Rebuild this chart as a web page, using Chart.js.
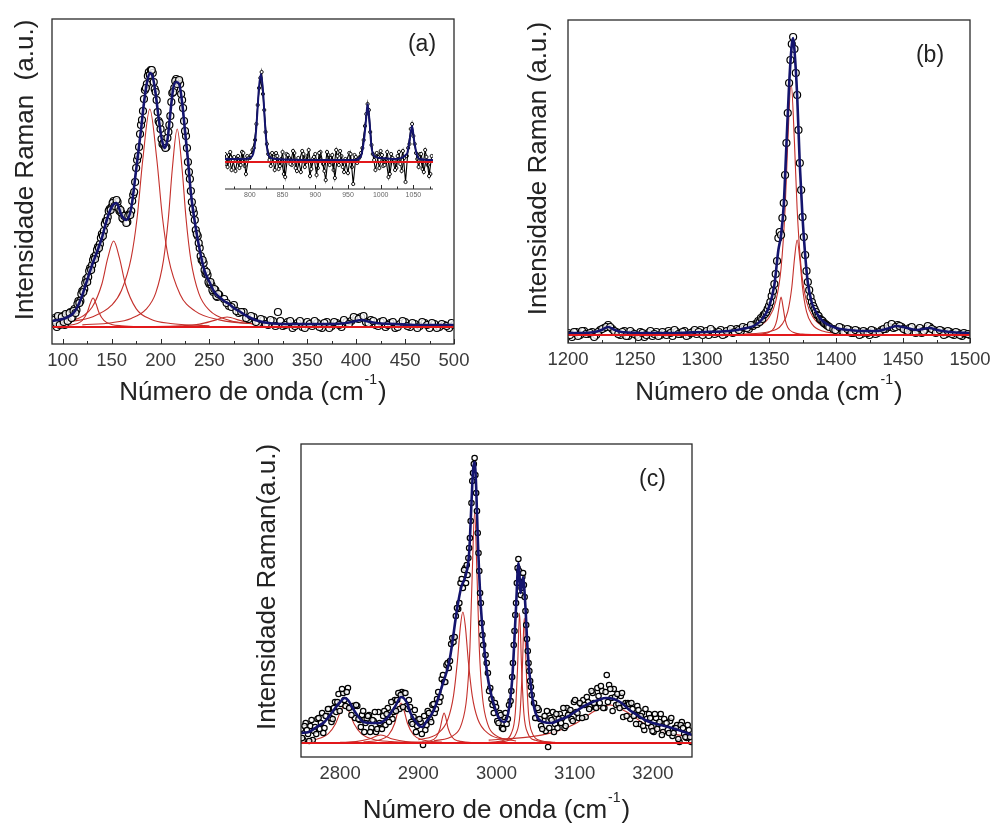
<!DOCTYPE html>
<html>
<head>
<meta charset="utf-8">
<title>Espectros Raman</title>
<script src="https://cdn.jsdelivr.net/npm/chart.js@4.4.1/dist/chart.umd.min.js"></script>
<style>
  body { margin: 0; background: #fff; }
  #page { position: relative; width: 990px; height: 825px; overflow: hidden; background: #fff; }
  canvas { position: absolute; }
</style>
</head>
<body>
<div id="page">
  <canvas id="chartA" width="495" height="410" style="left:0;top:0"></canvas>
  <canvas id="chartB" width="495" height="410" style="left:495px;top:0"></canvas>
  <canvas id="chartC" width="480" height="405" style="left:240px;top:420px"></canvas>
  <canvas id="chartInset" width="230" height="150" style="left:215px;top:55px"></canvas>
</div>
<script>
'use strict';

/* ---- Panel (a): 90-500 cm-1 ---- */
const aTicks = [100, 150, 200, 250, 300, 350, 400, 450, 500];
const aMinor = [125, 175, 225, 275, 325, 375, 425, 475];
const aFitX = [89, 95, 100, 105, 110, 115, 120, 125, 130, 135, 140, 145, 150, 155, 160, 165, 170, 175, 180, 183, 186, 189, 192, 195, 198, 201, 204, 207, 210, 213, 216, 219, 222, 225, 228, 231, 235, 240, 245, 250, 255, 260, 265, 270, 275, 280, 290, 300, 310, 330, 350, 370, 390, 400, 405, 410, 420, 440, 460, 480, 500];
const aFitY = [7, 8, 9, 11, 14, 21, 33, 48, 63, 76, 90, 108, 121, 125, 113, 108, 120, 158, 198, 225, 245, 255, 251, 234, 210, 190, 180, 188, 215, 240, 246, 244, 226, 197, 168, 135, 106, 78, 57, 46, 36, 31, 27, 24, 20, 17, 11, 7, 5, 4, 4, 4, 5, 7, 8, 7, 5, 4, 3, 3, 3];
// measured points: 90..260 every 2, 91..259 every 2, 265..500 every 5, 267.5..497.5 every 5
const aData1 = [4, 10, 1, 11, 6, 12, 3, 13, 8, 16, 11, 19, 18, 27, 27, 37, 39, 49, 51, 60, 63, 71, 73, 81, 84, 94, 97, 107, 111, 119, 121, 127, 124, 126, 117, 115, 109, 110, 106, 114, 117, 133, 146, 168, 181, 203, 217, 238, 244, 256, 258, 255, 239, 228, 207, 199, 184, 182, 181, 196, 212, 235, 240, 249, 247, 244, 228, 207, 192, 166, 149, 126, 115, 98, 92, 80, 68, 65, 54, 53, 44, 43, 36, 38, 31, 33];
const aData2 = [8, 5, 12, 3, 11, 6, 14, 7, 15, 10, 17, 15, 24, 25, 34, 36, 45, 46, 57, 58, 68, 69, 78, 80, 90, 92, 104, 107, 117, 118, 125, 122, 128, 120, 118, 110, 112, 105, 112, 113, 127, 136, 160, 172, 194, 208, 229, 240, 252, 253, 258, 246, 236, 216, 205, 189, 185, 180, 190, 203, 226, 236, 247, 244, 248, 234, 220, 197, 180, 156, 137, 119, 108, 94, 85, 72, 68, 58, 56, 46, 46, 38, 39, 32, 34];
const aData3 = [29, 22, 23, 15, 16, 9, 11, 5, 8, 3, 7, 16, 2, 6, 0, 5, 1, 6, 2, 5, 0, 6, 2, 5, 1, 6, 7, 10, 11, 6, 8, 3, 6, 1, 5, 0, 4, 6, 1, 4, 2, 5, 0, 4, 1, 3, 0, 3];
const aData4 = [25, 21, 17, 16, 10, 12, 6, 9, 4, 8, 2, 7, 3, 7, 2, 7, 0, 4, 7, 1, 5, 0, 6, 3, 8, 4, 11, 9, 12, 5, 7, 2, 7, 3, 6, 1, 7, 2, 5, 0, 6, 3, 5, 0, 4, 2, 5];
const aComp1X = [95, 105, 115, 120, 125, 128, 131, 134, 137, 142, 150, 160, 180, 210];
const aComp1Y = [1.8, 2.5, 4.6, 7.6, 15.5, 24.2, 30, 24.2, 15.5, 7.6, 3.6, 2.2, 1.4, 1.2];
const aComp2X = [89, 100, 110, 120, 130, 140, 146, 152, 158, 164, 175, 190, 210, 250];
const aComp2Y = [4, 5.3, 7.5, 11.6, 20.7, 44, 69.8, 87, 69.8, 44, 19.4, 8.8, 4.5, 2.3];
const aComp3X = [89, 110, 130, 150, 160, 170, 176, 182, 189, 196, 202, 208, 220, 235, 260, 300, 350];
const aComp3Y = [4.6, 6.8, 11.1, 22.8, 37.5, 70.4, 110, 170, 219, 170, 110, 70.4, 33.6, 17.1, 8.1, 4, 2.4];
const aComp4X = [120, 150, 170, 185, 195, 203, 208, 212, 217, 222, 226, 231, 239, 250, 270, 300, 350];
const aComp4Y = [3.1, 5.3, 9.6, 18.6, 34.9, 67.9, 110, 159, 199, 159, 110, 67.9, 34.9, 17.6, 7.8, 3.8, 2.1];
const aComp5X = [180, 220, 240, 255, 268, 281, 296, 320, 360];
const aComp5Y = [1.4, 2.2, 3.9, 7.6, 11, 7.6, 3.9, 2.1, 1.4];

/* ---- Inset of (a): 760-1080 cm-1 ---- */
const iTicks = [800, 850, 900, 950, 1000, 1050];
const iMinor = [775, 825, 875, 925, 975, 1025, 1075];
const iFitX = [762, 790, 800, 805, 808, 811, 814, 817, 820, 823, 826, 830, 840, 900, 960, 970, 975, 978, 980, 983, 986, 990, 1000, 1020, 1040, 1045, 1048, 1051, 1055, 1060, 1080];
const iFitY = [3, 3, 4, 8, 20, 45, 75, 88, 72, 40, 15, 5, 3, 2, 2, 6, 25, 45, 58, 40, 15, 6, 4, 3, 8, 25, 36, 22, 8, 3, 2];
// 762..1078 every 4 and 764..1076 every 4
const iData1 = [8, -5, 10, 2, -9, 6, -3, 9, -12, 4, 7, 14, 38, 74, 90, 52, 18, 2, 9, -8, 6, -4, 10, -15, 7, -2, 11, -6, 4, -10, 8, 0, 12, -7, 5, -13, 9, 1, -9, 10, -3, 7, -16, 6, 11, -5, 3, -11, 8, -22, 5, 3, 9, 22, 48, 52, 17, 2, 9, -6, 7, -3, 10, -12, 4, -8, 6, -2, 11, -20, 14, 33, 26, 9, -5, 8, -10, 5, -14, 6];
const iData2 = [-2, 7, -8, 5, 3, -6, 10, -4, 6, 4, 12, 22, 57, 84, 68, 30, 8, -4, 5, 9, -7, 3, -12, 8, 4, -3, 9, -9, 2, 11, -5, 6, -14, 3, 8, -6, 10, -2, -18, 7, 4, -8, 12, -3, 6, -10, 2, 9, -5, 7, -1, 5, 14, 36, 58, 30, 8, -8, 5, 11, -4, 3, -15, 8, 2, -6, 10, -9, 4, 6, 18, 38, 18, 3, 8, -7, 12, -3, -12];

/* ---- Panel (b): 1200-1500 cm-1 ---- */
const bTicks = [1200, 1250, 1300, 1350, 1400, 1450, 1500];
const bMinor = [1225, 1275, 1325, 1375, 1425, 1475];
const bFitX = [1200, 1210, 1220, 1225, 1230, 1235, 1240, 1260, 1280, 1300, 1320, 1330, 1340, 1345, 1350, 1354, 1357, 1359, 1361, 1363, 1365, 1367, 1368, 1369, 1371, 1373, 1375, 1377, 1379, 1382, 1386, 1390, 1400, 1410, 1420, 1430, 1440, 1445, 1450, 1460, 1470, 1475, 1485, 1500];
const bFitY = [2, 2, 3, 5, 8, 5, 3, 2, 2, 3, 4, 6, 10, 16, 28, 50, 85, 100, 130, 190, 250, 290, 297, 285, 240, 170, 118, 80, 52, 32, 21, 14, 7, 5, 4, 4, 7, 9, 8, 5, 7, 5, 3, 2];
// 1200..1338 every 3, 1340..1395 every 1, 1398..1500 every 3, plus 1201.5..1336.5 and 1399.5..1498.5 every 3
const bData1 = [2, -2, 3, 0, 4, 1, 3, 0, 5, 7, 10, 6, 3, 0, 4, -1, 2, 0, 3, -2, 2, -1, 3, 0, 2, 4, -1, 3, 1, 4, 0, 3, 1, 5, 2, 0, 4, 2, 5, 1, 4, 2, 6, 4, 7, 6, 9];
const bData2 = [11, 11, 14, 13, 17, 16, 20, 21, 23, 26, 29, 33, 39, 44, 51, 61, 74, 97, 103, 100, 117, 132, 160, 192, 222, 252, 275, 291, 298, 286, 262, 240, 205, 172, 145, 118, 98, 80, 64, 53, 45, 38, 33, 29, 26, 23, 20, 19, 16, 15, 14, 12, 11, 10, 9, 8];
const bData3 = [6, 4, 7, 3, 5, 2, 4, 1, 3, 0, 4, 2, 5, 6, 8, 7, 10, 8, 5, 7, 3, 5, 2, 6, 8, 5, 3, 4, 1, 3, 0, 2, -1, 1, 0];
const bData4 = [0, 3, -1, 4, 1, 2, -2, 3, 6, 8, 8, 4, 1, 3, -1, 4, 1, -2, 2, 0, 4, 1, -1, 3, 0, 2, 5, 1, 3, -1, 2, 5, 3, 0, 4, 6, 1, 3, 0, 4, 6, 3, 5, 8, 7, 10];
const bData5 = [5, 8, 3, 6, 2, 5, 0, 4, 2, 5, 1, 3, 6, 9, 11, 8, 9, 6, 4, 8, 2, 7, 4, 9, 6, 2, 5, 0, 4, 1, 3, 0, 2, 1];
const bComp1X = [1330, 1345, 1350, 1354, 1356, 1357.5, 1359, 1360.5, 1362, 1364, 1368, 1375, 1390];
const bComp1Y = [0.3, 1.2, 2.7, 7.6, 15.6, 27.9, 38, 27.9, 15.6, 7.6, 2.7, 0.9, 0.25];
const bComp2X = [1320, 1340, 1350, 1355, 1359, 1362, 1364, 1366.5, 1369, 1371, 1374, 1378, 1383, 1393, 1420];
const bComp2Y = [2.3, 7.1, 17.5, 33.5, 66.7, 126, 192.5, 252, 192.5, 126, 66.7, 33.5, 17.5, 7.1, 1.8];
const bComp3X = [1330, 1350, 1360, 1364, 1367, 1369, 1371, 1373, 1375, 1378, 1382, 1390, 1410];
const bComp3Y = [0.9, 3.3, 11.1, 23.4, 47.5, 76, 95, 76, 47.5, 23.4, 11.1, 4, 1];

/* ---- Panel (c): 2750-3250 cm-1 ---- */
const cTicks = [2800, 2900, 3000, 3100, 3200];
const cFitX = [2750, 2760, 2770, 2780, 2790, 2800, 2806, 2810, 2820, 2830, 2840, 2850, 2860, 2870, 2878, 2885, 2890, 2900, 2905, 2910, 2920, 2930, 2940, 2950, 2955, 2960, 2965, 2968, 2970, 2972, 2974, 2976, 2980, 2985, 2990, 3000, 3005, 3010, 3015, 3020, 3025, 3028, 3031, 3034, 3037, 3040, 3045, 3050, 3060, 3070, 3080, 3090, 3100, 3110, 3120, 3130, 3140, 3150, 3160, 3170, 3180, 3190, 3200, 3220, 3240, 3250];
const cFitY = [10, 11, 16, 21, 31, 41, 45, 43, 30, 21, 20, 20, 25, 36, 46, 41, 30, 18, 16, 21, 33, 56, 83, 136, 156, 166, 190, 240, 273, 281, 256, 206, 136, 90, 60, 30, 23, 21, 30, 63, 136, 180, 150, 166, 136, 90, 50, 30, 21, 20, 23, 26, 31, 36, 40, 43, 45, 44, 40, 33, 28, 23, 20, 16, 11, 8];
// 2750..2960 every 3, 2961..2983 every 1, 2986..3016 every 3, 3018..3045 every 1, 3048..3249 every 3
const cData1 = [14, 3, 20, 9, 17, 3, 16, 24, 14, 30, 15, 27, 34, 21, 35, 31, 49, 39, 50, 37, 55, 36, 37, 25, 37, 23, 28, 11, 24, 28, 15, 22, 11, 31, 18, 27, 18, 35, 28, 24, 43, 43, 34, 51, 50, 37, 43, 21, 26, 11, 23, 21, -2, 13, 32, 24, 38, 30, 44, 41, 64, 61, 78, 75, 99, 101, 127, 134, 160, 155, 175];
const cData2 = [160, 178, 168, 185, 195, 205, 222, 240, 262, 270, 279, 285, 268, 250, 232, 210, 190, 172, 150, 140, 120, 108, 98];
const cData3 = [88, 70, 55, 38, 40, 22, 30, 15, 26, 19, 38];
const cData4 = [42, 52, 66, 80, 98, 112, 128, 140, 160, 175, 184, 172, 160, 148, 155, 166, 170, 158, 146, 132, 118, 104, 92, 80, 72, 62, 56, 48];
const cData5 = [40, 25, 33, 17, 23, 12, -4, 25, 31, 19, 15, 29, 25, 15, 35, 30, 24, 41, 31, 25, 39, 43, 26, 41, 36, 50, 36, 55, 40, 52, 35, 68, 58, 45, 54, 38, 39, 47, 26, 40, 40, 24, 34, 28, 37, 19, 30, 13, 24, 29, 16, 11, 25, 19, 29, 11, 20, 13, 22, 7, 15, 18, 1, 21, 9, 5, 13, 1];
// in-between readings: 2751.5..2958.5, 2987.5..3014.5, 3049.5..3247.5 every 3
const cData6 = [5, 17, 13, 2, 23, 12, 9, 25, 20, 10, 27, 34, 25, 24, 41, 41, 32, 54, 43, 51, 35, 28, 37, 38, 24, 16, 32, 20, 27, 11, 23, 31, 14, 20, 14, 32, 29, 21, 41, 31, 32, 50, 48, 36, 50, 34, 36, 19, 33, 17, 24, 9, 27, 18, 30, 21, 39, 34, 51, 46, 68, 61, 80, 82, 105, 106, 135, 140, 164, 173];
const cData7 = [80, 52, 44, 30, 36, 20, 28, 14, 30, 24];
const cData8 = [25, 35, 24, 14, 27, 32, 15, 23, 11, 29, 24, 20, 35, 17, 28, 33, 22, 43, 30, 40, 25, 38, 46, 34, 52, 40, 35, 47, 57, 35, 51, 41, 54, 32, 46, 49, 35, 50, 37, 27, 39, 40, 27, 19, 33, 27, 17, 34, 20, 25, 12, 29, 14, 21, 8, 24, 20, 10, 25, 10, 15, 4, 18, 15, 6, 18, 6];
const cComp1X = [2750, 2770, 2785, 2794, 2800, 2806, 2812, 2818, 2827, 2842, 2865, 2900];
const cComp1Y = [1.7, 3.8, 9.4, 19, 30.4, 38, 30.4, 19, 9.4, 3.8, 1.5, 0.6];
const cComp2X = [2800, 2820, 2837, 2852, 2867, 2884, 2910];
const cComp2Y = [0.6, 1.4, 4, 8, 4, 1.4, 0.5];
const cComp3X = [2830, 2850, 2862, 2870, 2874, 2878, 2882, 2886, 2894, 2906, 2930];
const cComp3Y = [1.1, 3, 8, 20, 32, 40, 32, 20, 8, 3, 0.9];
const cComp4X = [2900, 2915, 2923, 2928, 2931, 2933, 2935, 2938, 2943, 2951, 2970];
const cComp4Y = [0.7, 2.1, 6, 15, 25.9, 30, 25.9, 15, 6, 2.1, 0.5];
const cComp5X = [2900, 2925, 2938, 2945, 2950, 2954, 2957, 2960, 2964, 2969, 2976, 2990, 3015];
const cComp5Y = [3.2, 9.6, 24, 47.1, 81.6, 117.9, 131, 117.9, 81.6, 47.1, 24, 9.1, 3.1];
const cComp6X = [2920, 2945, 2955, 2962, 2966, 2969, 2972, 2975, 2978, 2982, 2989, 2999, 3025];
const cComp6Y = [2.1, 7.6, 18.4, 46.2, 94.7, 169.9, 231, 169.9, 94.7, 46.2, 18.4, 7.6, 2];
const cComp7X = [2990, 3010, 3019, 3024, 3027, 3029.5, 3032, 3035, 3040, 3050, 3070];
const cComp7Y = [0.7, 3, 9.8, 29.8, 76.7, 130, 76.7, 29.8, 9.8, 2.7, 0.7];
const cComp8X = [3000, 3015, 3025, 3030, 3033, 3035.5, 3038, 3041, 3046, 3056, 3075];
const cComp8Y = [0.9, 2.6, 9.4, 28.7, 73.8, 125, 73.8, 28.7, 9.4, 2.6, 0.7];
const cComp9X = [2990, 3040, 3070, 3100, 3125, 3145, 3165, 3190, 3220, 3250];
const cComp9Y = [2.9, 5.9, 10.1, 19, 31.7, 38, 31.7, 19, 10.1, 5.9];

/* Text */
const xTitleMain = 'Número de onda (cm';
const xTitleSup = '-1';
const xTitleTail = ')';

const FONT = "'Liberation Sans', Arial, Helvetica, sans-serif";
const NAVY = '#14146e';
const RED = '#c4302b';
const RED_BASE = '#e2181b';

/* helpers to turn the arrays into {x, y} points */
function pairs(xs, ys) {
    return xs.map((x, i) => ({ x: x, y: ys[i] }));
}
function evenly(start, step, ys) {
    return ys.map((y, i) => ({ x: start + i * step, y: y }));
}

function fitLine(data, w) {
    return { data: data, showLine: true, borderColor: NAVY, borderWidth: w || 2.6, pointRadius: 0,
        cubicInterpolationMode: 'monotone', order: 1 };
}
function dots(data, r) {
    return { data: data, showLine: false, pointRadius: r, pointStyle: 'circle',
        pointBackgroundColor: 'rgba(255,255,255,0.8)', pointBorderColor: '#000',
        pointBorderWidth: 1.2, order: 2 };
}
function redLine(data) {
    return { data: data, showLine: true, borderColor: RED, borderWidth: 1.1, pointRadius: 0,
        cubicInterpolationMode: 'monotone', order: 4 };
}
function baseLine(x0, x1, y) {
    return { data: [{ x: x0, y: y }, { x: x1, y: y }], showLine: true, borderColor: RED_BASE,
        borderWidth: 2.2, pointRadius: 0, order: 0 };
}

/* frame, inward ticks, titles and panel letter */
function decorate(o) {
    return {
        id: 'decorate',
        afterDraw(chart) {
            const ctx = chart.ctx;
            const a = chart.chartArea;
            const sx = chart.scales.x;
            ctx.save();
            ctx.strokeStyle = '#2a2a2a';
            ctx.lineWidth = o.frameWidth || 1.3;
            if (o.box) {
                ctx.strokeRect(a.left, a.top, a.right - a.left, a.bottom - a.top);
            } else {
                ctx.beginPath();
                ctx.moveTo(a.left, a.bottom);
                ctx.lineTo(a.right, a.bottom);
                ctx.stroke();
            }
            ctx.lineWidth = 1;
            const mark = (v, len) => {
                const px = Math.round(sx.getPixelForValue(v)) + 0.5;
                ctx.beginPath();
                ctx.moveTo(px, a.bottom);
                ctx.lineTo(px, a.bottom - len);
                ctx.stroke();
            };
            (o.majorMarks || []).forEach(v => mark(v, o.majorLen));
            (o.minorMarks || []).forEach(v => mark(v, o.minorLen));

            ctx.fillStyle = '#222';
            ctx.textBaseline = 'alphabetic';
            if (o.yTitle) {
                ctx.save();
                ctx.translate(o.yTitle.x, o.yTitle.y);
                ctx.rotate(-Math.PI / 2);
                ctx.textAlign = 'center';
                ctx.font = o.yTitle.size + 'px ' + FONT;
                ctx.fillText(o.yTitle.text, 0, 0);
                ctx.restore();
            }
            if (o.xTitle) {
                const t = o.xTitle;
                const mainFont = t.size + 'px ' + FONT;
                const supFont = t.supSize + 'px ' + FONT;
                ctx.font = mainFont;
                const w1 = ctx.measureText(xTitleMain).width;
                const w3 = ctx.measureText(xTitleTail).width;
                ctx.font = supFont;
                const w2 = ctx.measureText(xTitleSup).width;
                const left = t.x - (w1 + w2 + w3 + 2) / 2;
                ctx.textAlign = 'left';
                ctx.font = mainFont;
                ctx.fillText(xTitleMain, left, t.y);
                ctx.font = supFont;
                ctx.fillText(xTitleSup, left + w1 + 1, t.y - t.supRise);
                ctx.font = mainFont;
                ctx.fillText(xTitleTail, left + w1 + w2 + 2, t.y);
            }
            if (o.label) {
                ctx.textAlign = 'center';
                ctx.font = o.label.size + 'px ' + FONT;
                ctx.fillText(o.label.text, o.label.x, o.label.y);
            }
            ctx.restore();
        }
    };
}

function makeChart(id, o) {
    return new Chart(document.getElementById(id), {
        type: 'scatter',
        data: { datasets: o.datasets },
        options: {
            responsive: false,
            animation: false,
            devicePixelRatio: 1,
            events: [],
            layout: {
                padding: { left: o.area.left, right: o.area.right, top: o.area.top, bottom: 0 },
                autoPadding: false
            },
            plugins: { legend: { display: false }, tooltip: { enabled: false } },
            scales: {
                x: {
                    type: 'linear',
                    min: o.xMin,
                    max: o.xMax,
                    grid: { display: false, drawTicks: false },
                    border: { display: false },
                    ticks: {
                        font: { family: FONT, size: o.tickSize },
                        color: o.tickColor,
                        padding: o.tickPad,
                        maxRotation: 0,
                        autoSkip: false,
                        callback: v => String(v)
                    },
                    afterBuildTicks: s => { s.ticks = o.ticks.map(v => ({ value: v })); },
                    afterFit: s => { s.height = o.area.xHeight; s.paddingLeft = 0; s.paddingRight = 0; }
                },
                y: { display: false, min: o.yMin, max: o.yMax }
            }
        },
        plugins: [decorate(o)]
    });
}

/* Chart (a) */
makeChart('chartA', {
    xMin: 89, xMax: 500, yMin: -16, yMax: 309,
    ticks: aTicks, tickSize: 18.5, tickColor: '#3a3a3a', tickPad: 6,
    area: { left: 52, right: 41, top: 19, xHeight: 66 },
    box: true, majorMarks: aTicks, minorMarks: aMinor, majorLen: 5, minorLen: 3,
    yTitle: { text: 'Intensidade Raman  (a.u.)', x: 32.5, y: 170, size: 26 },
    xTitle: { x: 253, y: 400, size: 26, supSize: 14, supRise: 16 },
    label: { text: '(a)', x: 422, y: 51, size: 23 },
    datasets: [
        fitLine(pairs(aFitX, aFitY)),
        dots(evenly(90, 2, aData1).concat(evenly(91, 2, aData2), evenly(265, 5, aData3),
            evenly(267.5, 5, aData4)), 3.5),
        baseLine(89, 500, 1),
        redLine(pairs(aComp1X, aComp1Y)),
        redLine(pairs(aComp2X, aComp2Y)),
        redLine(pairs(aComp3X, aComp3Y)),
        redLine(pairs(aComp4X, aComp4Y)),
        redLine(pairs(aComp5X, aComp5Y))
    ]
});

/* Inset of (a) */
makeChart('chartInset', {
    xMin: 762, xMax: 1080, yMin: -27, yMax: 100,
    ticks: iTicks, tickSize: 7, tickColor: '#666', tickPad: 2,
    area: { left: 10, right: 12, top: 7, xHeight: 16 },
    box: false, frameWidth: 1, majorMarks: iTicks, minorMarks: iMinor, majorLen: 4, minorLen: 2.5,
    datasets: [
        fitLine(pairs(iFitX, iFitY), 2),
        { data: evenly(762, 4, iData1), showLine: true, borderColor: '#000', borderWidth: 1.1,
          pointRadius: 1.6, pointBackgroundColor: '#fff', pointBorderColor: '#000',
          pointBorderWidth: 0.9, order: 2 },
        { data: evenly(764, 4, iData2), showLine: true, borderColor: '#000', borderWidth: 1.1,
          pointRadius: 1.6, pointBackgroundColor: '#fff', pointBorderColor: '#000',
          pointBorderWidth: 0.9, order: 2 },
        baseLine(762, 1080, 0)
    ]
});

/* Chart (b) */
makeChart('chartB', {
    xMin: 1200, xMax: 1500, yMin: -8, yMax: 315,
    ticks: bTicks, tickSize: 18.5, tickColor: '#3a3a3a', tickPad: 6,
    area: { left: 73, right: 20, top: 20, xHeight: 67 },
    box: true, majorMarks: bTicks, minorMarks: bMinor, majorLen: 5, minorLen: 3,
    yTitle: { text: 'Intensidade Raman (a.u.)', x: 51, y: 168.5, size: 26 },
    xTitle: { x: 274, y: 400, size: 26, supSize: 14, supRise: 16 },
    label: { text: '(b)', x: 435, y: 62, size: 23 },
    datasets: [
        fitLine(pairs(bFitX, bFitY)),
        dots(evenly(1200, 3, bData1).concat(evenly(1340, 1, bData2), evenly(1398, 3, bData3),
            evenly(1201.5, 3, bData4), evenly(1399.5, 3, bData5)), 3.5),
        baseLine(1200, 1500, 0),
        redLine(pairs(bComp1X, bComp1Y)),
        redLine(pairs(bComp2X, bComp2Y)),
        redLine(pairs(bComp3X, bComp3Y))
    ]
});

/* Chart (c) */
makeChart('chartC', {
    xMin: 2750, xMax: 3250, yMin: -14, yMax: 299,
    ticks: cTicks, tickSize: 18.5, tickColor: '#3a3a3a', tickPad: 6,
    area: { left: 61, right: 28, top: 24, xHeight: 68 },
    box: true, majorMarks: [], minorMarks: [], majorLen: 0, minorLen: 0,
    yTitle: { text: 'Intensidade Raman(a.u.)', x: 34.5, y: 167, size: 26 },
    xTitle: { x: 256.5, y: 398, size: 26, supSize: 14, supRise: 16 },
    label: { text: '(c)', x: 412.5, y: 66, size: 23 },
    datasets: [
        fitLine(pairs(cFitX, cFitY)),
        dots(evenly(2750, 3, cData1).concat(evenly(2961, 1, cData2), evenly(2986, 3, cData3),
            evenly(3018, 1, cData4), evenly(3048, 3, cData5), evenly(2751.5, 3, cData6),
            evenly(2987.5, 3, cData7), evenly(3049.5, 3, cData8)), 2.7),
        baseLine(2750, 3250, 0),
        redLine(pairs(cComp1X, cComp1Y)),
        redLine(pairs(cComp2X, cComp2Y)),
        redLine(pairs(cComp3X, cComp3Y)),
        redLine(pairs(cComp4X, cComp4Y)),
        redLine(pairs(cComp5X, cComp5Y)),
        redLine(pairs(cComp6X, cComp6Y)),
        redLine(pairs(cComp7X, cComp7Y)),
        redLine(pairs(cComp8X, cComp8Y)),
        redLine(pairs(cComp9X, cComp9Y))
    ]
});
</script>
</body>
</html>
